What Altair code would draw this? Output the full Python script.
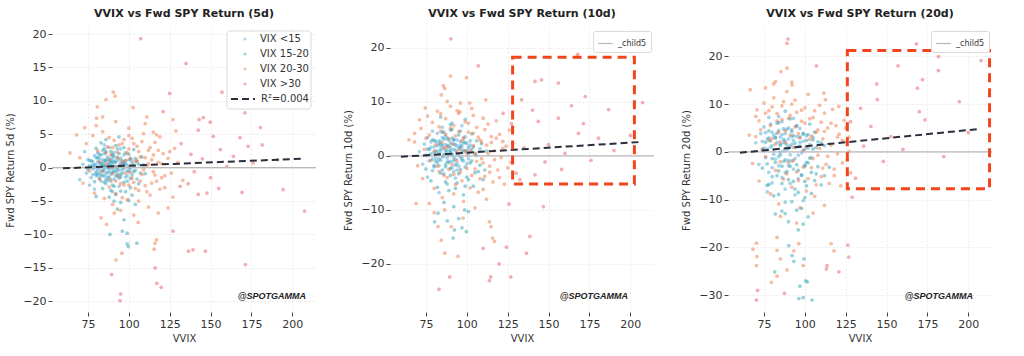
import altair as alt
import pandas as pd

REGIMES = ["VIX <15", "VIX 15-20", "VIX 20-30", "VIX >30"]
REGIME_COLORS = ["#3d9fd2", "#1a9bab", "#ec6a36", "#e64b55"]
R2_LABEL = "R²=0.004"
LINE_COLOR = "#2b2e3b"
BOX_COLOR = "#f2441d"
ZERO_COLOR = "#b8b8b8"

TITLES = ["VVIX vs Fwd SPY Return (5d)", "VVIX vs Fwd SPY Return (10d)", "VVIX vs Fwd SPY Return (20d)"]
Y_TITLES = ["Fwd SPY Return 5d (%)", "Fwd SPY Return 10d (%)", "Fwd SPY Return 20d (%)"]
X_DOMAIN = [53, 214.5]
X_TICKS = [75, 100, 125, 150, 175, 200]
Y_DOMAINS = [[-21.6, 20.9], [-28.9, 23.7], [-33.5, 25.9]]
Y_TICKS = [[-20, -15, -10, -5, 0, 5, 10, 15, 20], [-20, -10, 0, 10, 20], [-30, -20, -10, 0, 10, 20]]

# regression line end points (VVIX, return)
REG_X = [[59.7, 207.4], [59.7, 207.0], [60.3, 207.4]]
REG_Y = [[-0.1, 1.35], [-0.15, 2.6], [-0.2, 4.8]]

# highlighted boxes (x0, x1, y0, y1); panel 1 has none
BOXES = [None, [128, 202.5, -5.2, 18.3], [126, 213, -7.7, 21.2]]

# ---------------- 5d panel points (VVIX, return %) ----------------
P5_LT15 = [(72,0.5),(74,-0.8),(75,1.2),(76,0.3),(77,-1.5),(78,0.9),(78,-0.2),(79,1.8),(80,-0.6),(80,0.4),
           (81,2.2),(81,-1.1),(82,0.0),(82,1.4),(83,-2.0),(83,0.7),(84,-0.4),(84,2.6),(85,1.0),(85,-1.3),
           (86,0.2),(86,-2.4),(87,1.6),(87,-0.7),(88,0.5),(88,3.0),(89,-1.0),(89,1.1),(90,-0.2),(90,2.0),
           (91,-1.7),(91,0.8),(92,0.1),(93,-0.9),(93,1.5),(94,-2.8),(95,0.6),(96,-0.3),(97,1.9),(98,-1.4),
           (99,0.4),(100,-0.6),(102,1.0),(70,-1.8),(73,2.4),(76,-2.6),(79,-3.2),(85,3.4),(90,-3.6),(95,2.8),
           (76,1.1),(77,0.2),(78,-1.0),(79,0.5),(80,1.5),(81,-0.3),(81,0.9),(82,-1.6),(82,2.0),(83,0.3),
           (83,-0.5),(84,1.2),(84,-1.1),(85,0.0),(85,2.1),(86,-0.9),(86,1.0),(87,0.4),(87,-1.4),(88,1.3),
           (88,-0.6),(89,0.1),(89,-2.0),(90,1.4),(90,0.3),(91,-0.6),(91,2.3),(92,0.8),(92,-1.2),(93,0.2),
           (94,1.1),(94,-0.4),(95,-1.0),(96,0.9),(97,-0.1),(98,0.5),(99,-1.2),(100,1.2),(101,-0.2),(103,0.3),
           (79,0.0),(82,0.7),(85,-0.4),(88,0.9),(91,0.1),(94,-1.6),(97,0.7),(86,-1.8),(80,-1.2),(84,0.2)]
P5_15_20 = [(75,-0.3),(77,1.0),(79,-2.1),(80,2.9),(82,-0.8),(83,1.9),(84,-3.1),(85,0.3),(86,1.2),(87,-1.9),
            (88,-0.1),(89,2.4),(90,0.9),(90,-2.6),(91,1.7),(92,-0.5),(92,3.3),(93,-1.3),(94,0.2),(95,1.4),
            (95,-3.5),(96,-0.8),(97,0.6),(98,2.2),(99,-2.0),(100,0.0),(101,1.3),(102,-1.1),(103,2.7),(104,-0.4),
            (105,0.9),(106,-2.4),(108,1.6),(110,-0.9),(88,-4.4),(93,-6.2),(97,-7.8),(100,-4.9),(86,4.2),(94,4.6),
            (104,-5.5),(96,-9.5),(99,-11.4),(80,-4.3),(83,3.7),(88.5,-10),(99,-9.8),(104.9,-11.3),(99.7,-11.8),
            (78,0.3),(80,-0.9),(81,1.5),(83,-1.2),(84,0.6),(85,-2.2),(86,2.4),(87,0.0),(88,-1.5),(89,0.7),
            (90,-0.7),(90,1.9),(91,-2.8),(92,1.0),(93,-0.2),(94,2.1),(95,-1.4),(96,0.3),(97,-2.2),(98,1.0),
            (99,-0.5),(100,2.0),(101,-1.6),(102,0.6),(103,-0.6),(104,1.4),(105,-1.7),(106,0.5),(107,-0.8),(109,0.4),
            (89,-3.4),(93,2.8),(97,3.0),(101,-3.0),(85,2.8),(92,-4.0),(98,-3.6),(95,-5.2),(91,-5.0),(102,-4.1)]
P5_20_30 = [(70,1.5),(72,-2.3),(74,3.6),(76,-0.5),(78,4.8),(79,-3.8),(81,2.5),(82,-1.7),(84,5.4),(85,-4.6),
            (86,0.6),(87,3.1),(88,-2.9),(89,1.9),(90,-0.9),(91,4.1),(92,-3.9),(93,2.3),(94,-1.2),(95,0.4),
            (96,3.6),(97,-2.6),(98,1.1),(99,-4.8),(100,2.8),(101,-0.7),(102,4.4),(103,-2.2),(104,0.9),(105,3.2),
            (106,-3.4),(107,1.6),(108,-1.0),(109,5.1),(110,-2.7),(111,0.3),(112,2.6),(113,-4.1),(114,1.2),(115,-0.6),
            (116,3.8),(117,-2.0),(118,0.8),(119,4.6),(120,-1.5),(121,2.1),(122,-3.0),(124,1.4),(126,-0.8),(128,2.9),
            (80,6.3),(84,7.6),(92,6.9),(100,5.9),(110,6.6),(95,-6.4),(103,-7.1),(112,-5.9),(118,-6.8),(90,-5.5),
            (90.5,11.3),(91.6,10.7),(80.7,9.1),(102.6,9.0),(128.8,5.5),(127,7.2),(111,7.6),(73,6.0),(68,4.9),(64,2.2),
            (86,10.2),(80.3,7.4),(117,4.9),(117,-10.8),(116,-11.3),(115.5,-12.2),(95.7,-12.8),(92.2,-13.8),(83,-7.5),
            (86.4,-8.5),(91.1,-6.8),(105.7,-8.2),(122,-1.2),(125,2.4),(130,0.8),(133,-1.9),(127,-4.4),(124,-6.0),
            (82,0.9),(84,-0.6),(86,2.2),(88,1.2),(89,-1.8),(90,3.0),(91,0.2),(92,-2.0),(93,1.5),(94,3.4),
            (95,-2.4),(96,1.0),(97,4.2),(98,-0.8),(99,2.2),(100,-2.6),(101,1.4),(102,-1.6),(103,3.6),(104,-3.1),
            (105,1.1),(106,2.4),(107,-2.0),(108,3.9),(109,-0.3),(110,1.5),(111,-3.6),(112,0.6),(113,3.0),(114,-2.3),
            (115,1.9),(116,-1.1),(118,2.6),(119,-3.2),(120,0.6),(96,-4.5),(100,4.8),(106,-5.0),(88,4.5),(115,5.3)]
P5_GT30 = [(107.3,19.3),(135,15.6),(157,11.3),(171,8.2),(143,7.2),(149.8,6.8),(145.6,7.5),(168,4.5),(180.5,6.0),
           (181.6,3.4),(173,3.2),(142.5,5.6),(125,11.1),(156,2.7),(164,1.7),(176,0.7),(191,1.2),(207.5,-6.5),
           (194.4,-3.3),(169.3,-3.7),(171.3,-14.5),(146.8,-12.5),(136.5,-12.5),(139.2,-12.3),(147.8,-3.8),(155,-3.1),
           (117.1,-17.3),(119.8,-17.9),(116.1,-15.0),(95,-18.9),(94.6,-19.9),(89.5,-16.0),(131.4,-2.8),(136.3,-2.4),
           (142.5,-4.0),(151.7,4.7),(127,-9.5),(138,2.0),(140,-0.6),(145,1.3),(150,-1.5),(160,0.2),(132,3.6),(121,8.4)]

# ---------------- 10d panel points ----------------
P10_LT15 = [(71,0.8),(73,-1.5),(74,2.2),(75,0.1),(76,3.4),(77,-0.9),(78,1.6),(79,-2.7),(80,0.6),(80,2.9),
            (81,-0.4),(82,1.9),(82,4.2),(83,-1.8),(84,0.9),(84,2.6),(85,-0.2),(86,1.4),(86,-3.3),(87,3.7),
            (88,0.3),(88,1.9),(89,-1.2),(90,2.4),(90,0.7),(91,-2.2),(92,1.2),(92,3.1),(93,-0.6),(94,1.8),
            (95,0.2),(95,-1.9),(96,2.7),(97,-0.8),(98,1.1),(99,3.6),(100,-1.4),(101,0.5),(102,2.0),(85,5.3),
            (79,4.6),(93,-4.1),(88,-5.2),(76,-3.9),(97,5.6),(83,-6.8),(91,6.1),
            (76,1.3),(77,0.1),(78,2.6),(79,-0.6),(80,1.7),(81,0.9),(82,-1.2),(83,2.8),(83,0.5),(84,-0.8),
            (85,1.9),(85,3.4),(86,0.3),(87,-1.6),(87,2.1),(88,1.0),(88,-0.4),(89,2.9),(89,0.2),(90,-1.0),
            (90,1.5),(91,3.3),(91,0.4),(92,-0.3),(92,2.2),(93,1.1),(94,-1.4),(94,3.0),(95,1.3),(96,-0.2),
            (96,2.0),(97,1.8),(98,-0.9),(99,0.8),(100,2.3),(101,-0.5),(103,1.2),(86,4.4),(90,4.8),(94,-2.6),
            (82,0.9),(84,2.0),(98,3.2),(80,-2.0),(92,-2.9)]
P10_15_20 = [(75,-2.4),(77,1.2),(78,-4.6),(79,3.0),(81,-1.0),(82,-5.8),(83,2.3),(84,-3.2),(85,4.4),(86,0.0),
             (87,-2.0),(88,3.3),(89,-6.4),(90,1.0),(90,-3.6),(91,4.9),(92,-0.9),(93,2.1),(94,-5.0),(95,3.9),
             (96,-2.5),(97,0.8),(98,-7.2),(99,2.5),(100,-3.9),(101,1.6),(102,-1.3),(103,4.1),(104,-5.6),(105,0.4),
             (106,2.8),(107,-2.9),(108,1.3),(110,-4.4),(112,0.9),(86,-8.6),(92,-9.4),(95,-11.6),(101,-10.3),(88,-12.0),
             (97,-13.3),(84,7.2),(99,6.8),(80.3,-12.2),(92.4,-13.7),(91.6,-15.2),(99.7,-14),(82.4,-10.6),(98.7,-10),
             (78,0.4),(80,-1.8),(81,2.7),(83,-0.6),(84,1.3),(85,-2.6),(86,3.1),(87,0.9),(88,-1.1),(89,1.8),
             (90,-2.3),(91,0.2),(92,2.9),(93,-1.7),(94,0.5),(95,-3.3),(96,1.6),(97,-0.4),(98,2.4),(99,-2.0),
             (100,1.0),(101,-4.4),(102,2.8),(103,-0.9),(104,1.7),(105,-3.1),(106,0.1),(108,-1.7),(109,2.3),(111,-2.6),
             (87,-4.8),(93,-6.0),(99,-5.6),(90,5.8),(96,4.6)]
P10_20_30 = [(68,2.6),(70,-1.8),(72,5.1),(73,-4.2),(75,3.3),(76,7.4),(78,-0.8),(79,6.2),(80,-6.0),(81,2.1),
             (82,8.3),(83,-2.9),(84,4.6),(85,-7.7),(86,1.5),(87,6.9),(88,-4.0),(89,3.2),(90,9.2),(91,-1.6),
             (92,5.6),(93,-5.3),(94,0.7),(95,7.9),(96,-3.0),(97,2.8),(98,-8.4),(99,6.3),(100,0.2),(101,4.4),
             (102,-5.9),(103,8.8),(104,1.9),(105,-2.4),(106,5.3),(107,-6.7),(108,3.0),(109,-0.5),(110,7.0),(111,-3.8),
             (112,2.0),(113,5.9),(114,-1.9),(115,3.6),(116,-4.8),(117,1.0),(118,6.5),(119,-2.6),(120,4.0),(121,-0.3),
             (122,2.7),(123,-5.2),(124,1.8),(126,4.8),(127,-1.2),(128,2.3),(77,-8.8),(88,10.1),(96,9.8),(105,-9.6),
             (112,-8.0),(80,-10.5),(90,14.8),(99.8,14.5),(85.6,13),(86.5,12.5),(84.4,11.3),(111.6,10.4),(74.6,8.9),
             (71.1,6.7),(68.1,4.2),(64.6,3.0),(101.8,9.8),(95.7,8.2),(69,-8.8),(82.4,-13.1),(84.4,-15.6),(86.5,-18),
             (90.5,-13.1),(94.6,-18.6),(113.8,-12.2),(114.8,-13.1),(115.8,-15.2),(116.9,-15.8),(86.5,-10),(97.7,-11.5),
             (74,1.2),(77,3.9),(80,0.9),(82,-1.9),(83,5.4),(85,2.4),(86,-3.6),(87,4.0),(88,1.6),(89,-2.5),
             (90,5.1),(91,2.2),(92,-3.4),(93,3.7),(94,-0.8),(95,4.5),(96,1.2),(97,-4.6),(98,3.4),(99,0.9),
             (100,-2.3),(101,6.1),(102,1.0),(103,-3.6),(104,4.2),(105,0.5),(106,-1.0),(107,3.5),(108,-4.2),(109,2.6),
             (110,-1.3),(111,4.9),(113,0.4),(114,-3.0),(115,2.5),(117,-0.7),(118,3.3),(120,-4.0),(122,1.4),(125,-2.2),
             (84,7.8),(94,8.4),(104,7.5),(92,-7.0),(110,-6.2)]
P10_GT30 = [(167.8,18.8),(145.7,14.1),(141.7,13.8),(156,13.5),(172.4,11),(186.7,8.6),(207.5,9.9),(164,9.3),
            (133.5,10.4),(143.7,6.4),(156,7),(168.3,4.2),(180.5,3.3),(171.3,6.0),(140.2,8.5),(126.9,-22.4),
            (124.2,-16.9),(136.5,-18),(138.6,-14.9),(125.8,-8.9),(146.8,-9.4),(141.7,-3.5),(147.8,-1.1),(160,0.5),
            (130.2,-3.2),(132.5,-4.4),(119.8,-20),(114.6,-22.4),(113.8,-23.1),(90.2,21.7),(107,16.7),(89.5,-22.4),
            (83,-24.7),(110,-17.1),(127.3,6.0),(122.2,7.9),(150,2.1),(158,-2.5),(135,1.5),(190,1.0),(176,-0.8),(200,3.8)]

# ---------------- 20d panel points ----------------
P20_LT15 = [(70,1.9),(72,-2.6),(73,3.8),(74,0.4),(75,5.2),(76,-1.2),(77,2.7),(78,-4.3),(79,1.0),(80,4.1),
            (81,-0.5),(82,2.9),(83,6.0),(84,-2.9),(85,1.6),(86,3.6),(86,-5.4),(87,0.2),(88,2.3),(89,4.7),
            (90,-1.8),(91,1.2),(92,3.2),(93,-3.6),(94,0.9),(95,5.4),(96,-0.7),(97,2.0),(98,-4.8),(99,3.9),
            (100,0.6),(101,-2.2),(103,1.5),(105,3.0),(80,-6.5),(88,-7.8),(94,-9.0),(84,7.4),(91,-6.6),(77,-8.4),(99,-10.2),
            (74,2.2),(76,4.0),(77,0.6),(78,2.9),(79,5.8),(80,1.3),(81,3.5),(82,-1.5),(83,2.0),(84,4.5),
            (85,0.0),(85,3.1),(86,6.3),(87,1.9),(87,-2.0),(88,3.8),(89,0.5),(90,2.7),(90,5.0),(91,-0.6),
            (92,1.6),(92,4.2),(93,2.4),(94,-1.4),(95,3.2),(96,1.1),(97,4.9),(98,-0.2),(99,2.2),(100,-3.0),
            (101,3.4),(102,0.8),(104,-1.2),(80,-3.3),(88,-4.4),(84,-1.0),(96,-5.6),(90,-2.9),(78,7.2),(93,7.0)]
P20_15_20 = [(74,-3.4),(76,2.0),(77,-7.0),(78,4.4),(80,-1.4),(81,-9.2),(82,3.0),(83,-5.0),(84,6.1),(85,-0.6),
             (86,-3.0),(87,4.8),(88,-10.5),(89,1.5),(90,-5.8),(91,6.9),(92,-1.9),(93,3.4),(94,-7.8),(95,5.5),
             (96,-3.9),(97,1.2),(98,-11.8),(99,3.7),(100,-6.2),(101,2.4),(102,-2.3),(103,5.8),(104,-8.7),(105,0.6),
             (106,4.1),(107,-4.6),(108,2.1),(110,-6.9),(112,1.3),(115,-3.2),(82,-13.0),(90,-14.6),(96,-16.3),(102,-13.6),
             (86,-12.4),(99,-15.1),(88,8.5),(104.4,-31),(99,-30.5),(96.3,-30.7),(100.5,-27),(101.5,-27.2),(97,-28.1),
             (93.3,-22.9),(92.2,-21.7),(99.5,-22.4),(90.2,-19.6),(81.6,-25.1),
             (75,0.7),(77,-2.5),(79,2.3),(80,-5.2),(81,0.4),(82,-2.2),(83,3.9),(84,-4.0),(85,1.4),(86,-6.6),
             (87,2.6),(88,-1.7),(89,-4.1),(90,0.8),(91,-3.0),(92,4.6),(93,-6.2),(94,1.8),(95,-2.7),(96,-8.5),
             (97,3.1),(98,-4.9),(99,0.2),(100,-2.8),(101,-7.1),(102,3.6),(103,-1.3),(104,-4.3),(105,2.5),(106,-6.0),
             (107,0.9),(108,-3.1),(110,1.9),(112,-5.0),(84,-8.9),(92,-10.4),(100,-9.6),(88,-12.9),(95,-12.2),(78,-6.8)]
P20_20_30 = [(66,3.5),(68,-2.4),(70,7.4),(72,-6.1),(73,4.6),(75,10.2),(76,-1.0),(78,8.6),(79,-8.8),(80,2.8),
             (81,11.3),(82,-3.9),(83,6.5),(84,-10.9),(85,2.1),(86,9.6),(87,-5.7),(88,4.4),(89,12.6),(90,-2.2),
             (91,7.6),(92,-7.4),(93,1.0),(94,10.8),(95,-4.2),(96,3.8),(97,-11.7),(98,8.7),(99,0.3),(100,6.0),
             (101,-8.2),(102,12.0),(103,2.6),(104,-3.3),(105,7.2),(106,-9.3),(107,4.1),(108,-0.7),(109,9.7),(110,-5.2),
             (111,2.7),(112,8.1),(113,-2.6),(114,5.0),(115,-6.6),(116,1.4),(117,8.9),(118,-3.6),(119,5.5),(120,-0.4),
             (121,3.7),(122,-7.1),(123,2.4),(124,6.6),(126,-1.7),(127,3.1),(128,-4.4),(85,-13.5),(95,-14.9),(105,-12.8),
             (112,-11.2),(76,13.4),(92,14.6),(81,14.2),(82,14.7),(92.2,14),(66.6,13),(120.8,9.5),(111.6,12.3),
             (112.6,10.9),(70.7,8.8),(89.1,17.5),(85.4,16.8),(79.5,-27.3),(83,-26),(70.4,-23.8),(70.7,-21.9),
             (68.3,-20.4),(70.4,-19.1),(89.1,-24.7),(99,-23.8),(93.3,-20.7),(117.8,-20.7),(116.1,-19.2),(83,-20.6),
             (85,-22.4),(83,-17.9),(96.3,-19.2),
             (70,3.2),(72,6.5),(74,0.6),(76,8.1),(78,2.4),(79,5.5),(80,9.4),(82,1.6),(83,8.0),(84,4.1),
             (85,-2.1),(86,6.8),(87,10.5),(88,1.9),(89,-4.6),(90,7.0),(91,3.5),(92,10.0),(93,-1.8),(94,5.2),
             (95,8.3),(96,-6.0),(97,2.9),(98,6.4),(99,-3.2),(100,9.2),(101,1.1),(102,-5.6),(103,6.9),(104,3.3),
             (105,-1.4),(106,8.6),(107,-6.9),(108,4.6),(109,0.7),(110,6.2),(111,-3.4),(112,4.3),(114,-0.9),(116,6.0),
             (118,-5.0),(120,3.1),(123,-2.3),(125,5.0),(127,0.1)]
P20_GT30 = [(168.3,22.6),(157,18),(181.8,19.9),(181.7,17),(207.8,19.1),(144,14.2),(144.3,10.9),(168.9,13.3),
            (172,15.1),(194.5,10.5),(170,8.4),(173.5,6.7),(134.1,9.1),(128,6.3),(152.6,3.2),(140.4,5.3),(89.7,23.6),
            (89.1,22.7),(107.1,18),(126.3,-19.5),(126.9,-22),(120.8,-25.1),(113.6,-23.8),(113.2,-24.5),(87.5,-29.6),
            (70.4,-31),(71.1,-29),(160,0.5),(148,-2),(136,1.2),(200,4.0),(185,-1.0),(131,-5.5),(129,-9.5)]

PANEL_POINTS = [
    [P5_LT15, P5_15_20, P5_20_30, P5_GT30],
    [P10_LT15, P10_15_20, P10_20_30, P10_GT30],
    [P20_LT15, P20_15_20, P20_20_30, P20_GT30],
]
WATERMARK = "@SPOTGAMMA"
WM_RIGHT = [254, 238, 245]

W, H = 264, 284


def points_frame(groups):
    rows = []
    for reg, pts in zip(REGIMES, groups):
        for x, y in pts:
            rows.append({"vvix": x, "ret": y, "regime": reg})
    return pd.DataFrame(rows)


def panel(i):
    xs = alt.Scale(domain=X_DOMAIN, nice=False, zero=False)
    ys = alt.Scale(domain=Y_DOMAINS[i], nice=False, zero=False)
    X = alt.X("vvix:Q", scale=xs, axis=alt.Axis(values=X_TICKS, title="VVIX"))
    Y = alt.Y("ret:Q", scale=ys, axis=alt.Axis(values=Y_TICKS[i], title=Y_TITLES[i]))

    pdf = points_frame(PANEL_POINTS[i])
    if i == 0:
        col = alt.Color("regime:N", scale=alt.Scale(domain=REGIMES, range=REGIME_COLORS),
                        legend=alt.Legend(title=None, orient="none", legendX=178, legendY=6, padding=0,
                                          rowPadding=5, symbolType="circle", symbolSize=9, symbolOffset=10,
                                          symbolOpacity=0.45, symbolStrokeWidth=0, labelOffset=10,
                                          labelFont="DejaVu Sans", labelFontSize=10, labelColor="#333333"))
    else:
        col = alt.Color("regime:N", scale=alt.Scale(domain=REGIMES, range=REGIME_COLORS), legend=None)
    pts = alt.Chart(pdf).mark_circle(size=14, opacity=0.45).encode(x=X, y=Y, color=col)

    zdf = pd.DataFrame({"ret": [0], "lbl": ["_child5"]})
    if i == 0:
        zero = alt.Chart(zdf).mark_rule(strokeWidth=1.3).encode(y=Y, color=alt.value(ZERO_COLOR))
    else:
        zero = alt.Chart(zdf).mark_rule(strokeWidth=1.3).encode(
            y=Y,
            stroke=alt.Stroke("lbl:N", scale=alt.Scale(domain=["_child5"], range=[ZERO_COLOR]),
                              legend=alt.Legend(title=None, orient="top-right", offset=3, padding=4,
                                                symbolType="stroke", symbolSize=220, symbolStrokeWidth=1.2,
                                                labelFont="DejaVu Sans", labelFontSize=8, labelColor="#333333",
                                                strokeColor="#d9d9d9", fillColor="#ffffff", cornerRadius=2)))

    ldf = pd.DataFrame({"vvix": REG_X[i], "ret": REG_Y[i], "lbl": [R2_LABEL, R2_LABEL]})
    if i == 0:
        fdf = pd.DataFrame({"a": [0]})
        frame = alt.Chart(fdf).mark_rect(fill="#ffffff", stroke="#d9d9d9", strokeWidth=1, cornerRadius=3).encode(
            x=alt.value(175), x2=alt.value(259), y=alt.value(3), y2=alt.value(81))
        line = alt.Chart(ldf).mark_line(strokeWidth=2, color=LINE_COLOR).encode(
            x=X, y=Y,
            strokeDash=alt.StrokeDash("lbl:N", scale=alt.Scale(domain=[R2_LABEL], range=[[7, 4]]),
                                      legend=alt.Legend(title=None, orient="none", legendX=178, legendY=58,
                                                        padding=0, symbolType="stroke", symbolSize=576,
                                                        symbolStrokeWidth=2, symbolStrokeColor=LINE_COLOR,
                                                        labelOffset=5, labelFont="DejaVu Sans", labelFontSize=10,
                                                        labelColor="#333333")))
    else:
        line = alt.Chart(ldf).mark_line(strokeWidth=2, strokeDash=[7, 4], color=LINE_COLOR).encode(x=X, y=Y)

    layers = [pts, zero, line]
    if BOXES[i] is not None:
        b = BOXES[i]
        bdf = pd.DataFrame({"vvix": [b[0]], "vvix2": [b[1]], "ret": [b[2]], "ret2": [b[3]]})
        box = alt.Chart(bdf).mark_rect(fillOpacity=0, stroke=BOX_COLOR, strokeWidth=3, strokeDash=[9, 6]).encode(
            x=X, x2="vvix2:Q", y=Y, y2="ret2:Q")
        layers.append(box)

    wdf = pd.DataFrame({"t": [WATERMARK]})
    wm = alt.Chart(wdf).mark_text(align="right", baseline="middle", font="Liberation Sans", fontSize=9,
                                  fontStyle="italic", fontWeight="bold", color="#222222").encode(
        text="t:N", x=alt.value(WM_RIGHT[i]), y=alt.value(268))
    layers.append(wm)
    if i == 0:
        layers.append(frame)

    return alt.layer(*layers).properties(
        width=W, height=H,
        title=alt.TitleParams(TITLES[i], fontSize=11, font="DejaVu Sans", fontWeight="bold", color="#222222",
                              offset=9, anchor="middle"))


chart = alt.hconcat(panel(0), panel(1), panel(2), spacing=26).resolve_scale(
    color="independent", stroke="independent", strokeDash="independent", x="independent", y="independent"
).resolve_legend(color="independent", stroke="independent", strokeDash="independent").properties(
    padding={"left": 5, "top": 8, "right": 5, "bottom": 2}
).configure_view(strokeWidth=0).configure_axis(
    domain=False, grid=True, gridColor="#e4e4e4", gridDash=[2, 2], gridWidth=0.8,
    tickColor="#444444", tickSize=4, tickWidth=1, labelFont="DejaVu Sans", labelFontSize=11,
    labelColor="#333333", titleFont="DejaVu Sans", titleFontSize=10, titleFontWeight="normal",
    titleColor="#333333", labelPadding=2
).configure_axisY(titlePadding=7).configure_axisX(titlePadding=4)

chart.save("out.html", embed_options={"renderer": "svg", "actions": False})
